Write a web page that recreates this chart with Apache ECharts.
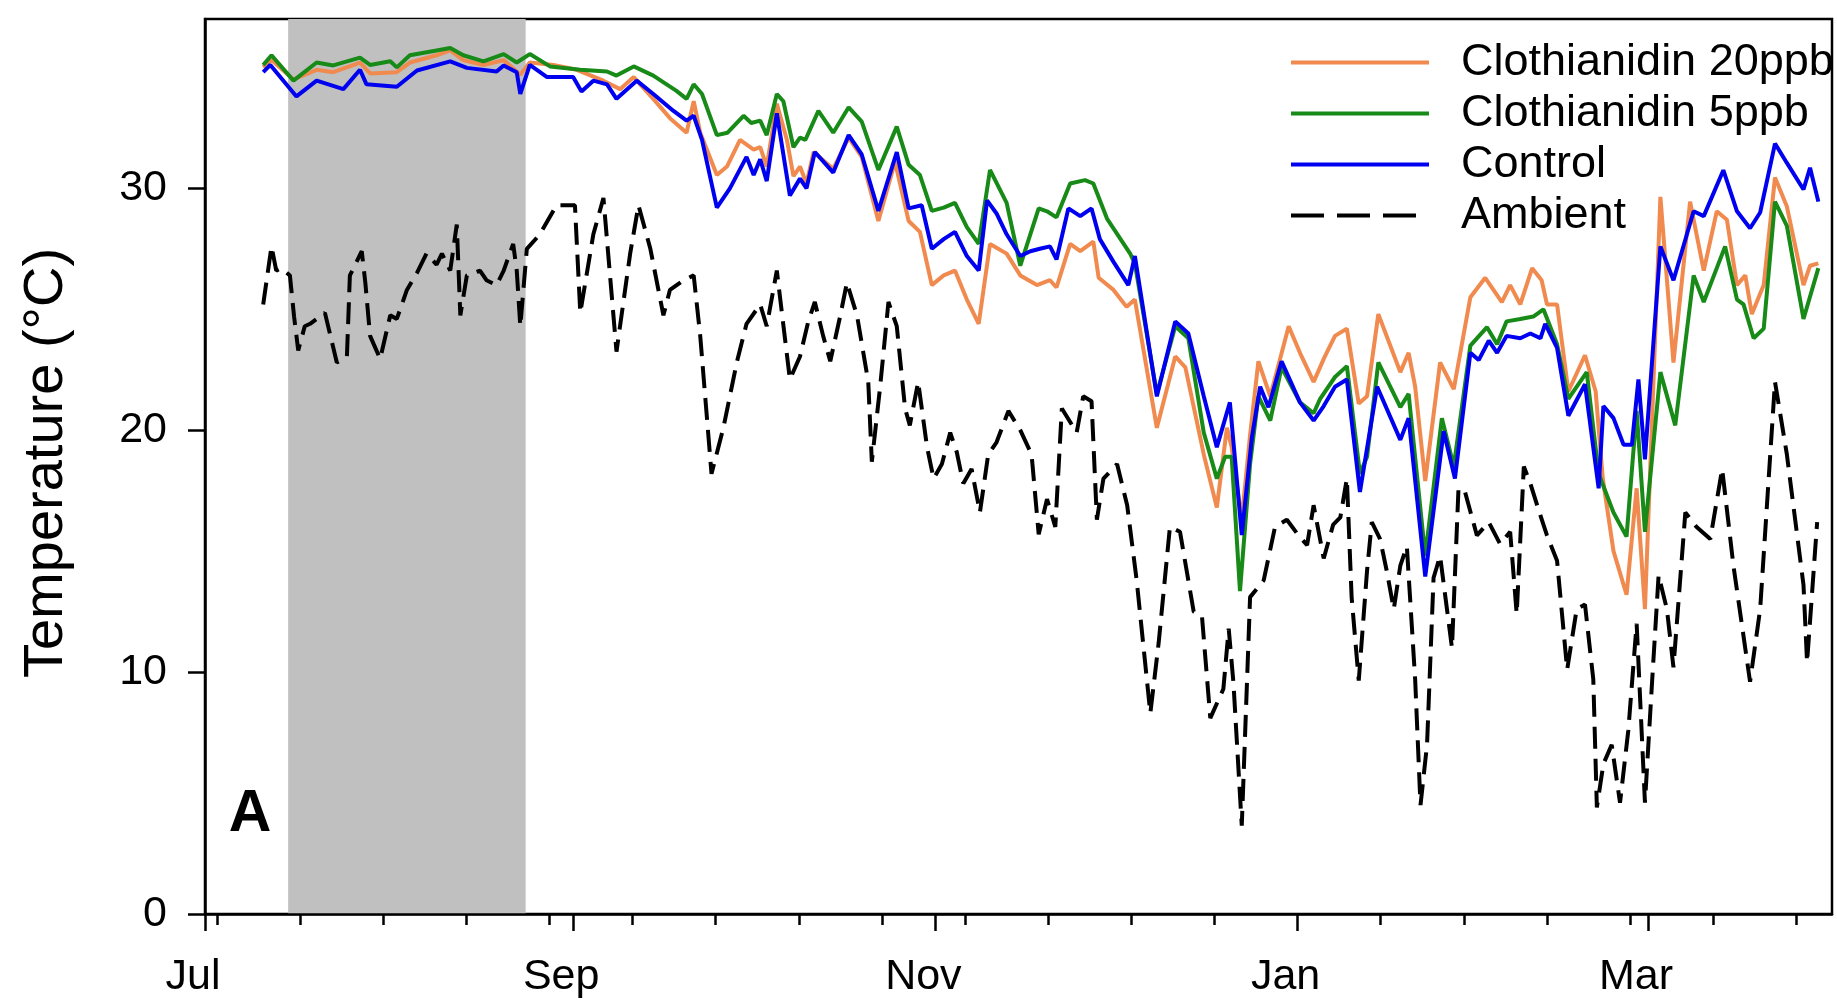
<!DOCTYPE html>
<html>
<head>
<meta charset="utf-8">
<script src="https://cdn.jsdelivr.net/npm/echarts@6/dist/echarts.min.js"></script>
<style>
html,body{margin:0;padding:0;background:#fff;}
#chart{width:1837px;height:1002px;}
</style>
</head>
<body>
<div id="chart"></div>
<script>
// x values are days since 1 July
const majorTickDays = [0, 62, 123, 184, 243];
const majorTickLabels = ['Jul', 'Sep', 'Nov', 'Jan', 'Mar'];
const minorTickDays = [2, 16, 30, 44, 58, 72, 86, 100, 114, 128, 142, 156, 170, 198, 212, 226, 240, 254, 268];
const yTicks = [0, 10, 20, 30];
const shadeStart = 14, shadeEnd = 54;

const c20Day = [9.8,11.2,14.9,18.8,21.6,26.1,27.8,32.3,34.5,39.0,41.3,43.5,46.9,50.3,53.1,54.7,58.7,62.6,67.1,69.9,72.2,75.5,78.3,81.1,82.3,83.4,86.2,87.9,90.1,92.4,93.5,94.6,96.3,98.0,99.1,100.2,101.3,102.5,105.8,108.4,110.6,113.4,116.2,118.5,120.4,122.4,124.4,126.3,128.3,130.3,132.2,135.0,137.3,140.1,142.3,143.4,145.7,147.4,149.6,150.5,153.0,155.2,156.6,160.3,163.4,165.1,168.2,170.4,172.1,172.9,174.6,176.0,177.4,179.4,182.5,184.4,186.7,188.5,190.3,192.3,194.3,195.7,197.6,199.6,201.3,202.7,203.8,205.5,208.0,210.3,213.1,215.6,218.4,219.8,221.5,223.5,225.1,226.0,227.7,229.6,232.4,234.2,235.4,237.2,239.4,241.1,242.5,245.1,247.3,250.1,252.4,254.6,256.3,258.0,259.4,260.5,262.5,264.4,266.4,269.2,270.3,271.7];
const c20Val = [35.0,35.3,34.5,34.9,34.8,35.2,34.75,34.8,35.2,35.5,35.7,35.3,35.1,35.3,34.7,35.2,35.1,34.9,34.45,34.1,34.6,33.7,32.9,32.3,33.6,32.3,30.55,30.9,32.0,31.6,31.7,30.9,33.5,32.0,30.5,30.9,30.2,31.5,30.8,32.1,31.3,28.65,31.1,28.65,28.2,26.0,26.4,26.6,25.4,24.4,27.7,27.3,26.4,26.0,26.2,25.9,27.7,27.4,27.8,26.3,25.8,25.1,25.4,20.1,23.05,22.6,19.0,16.8,20.1,19.3,16.3,19.8,22.85,21.4,24.3,23.2,22.0,23.0,23.9,24.2,21.1,21.4,24.8,23.5,22.4,23.2,21.8,17.9,22.8,21.7,25.5,26.3,25.3,26.0,25.2,26.7,26.2,25.2,25.2,21.6,23.1,21.6,18.0,15.0,13.2,17.6,12.6,29.65,22.8,29.45,26.6,29.05,28.7,26.0,26.4,24.8,26.0,30.45,29.25,26.0,26.8,26.9];

const c5Day = [9.8,11.2,14.9,18.8,21.6,26.1,27.8,31.2,32.3,34.5,39.0,41.3,43.5,46.9,50.3,52.5,54.7,58.1,63.2,67.7,69.3,72.2,75.5,79.4,81.1,82.3,83.7,86.2,88.0,90.7,92.0,93.5,94.6,96.3,97.4,99.1,100.2,101.1,103.3,105.8,108.4,110.6,113.4,116.5,118.5,120.4,122.4,124.4,126.3,128.3,130.3,132.2,135.0,137.3,140.4,141.8,143.4,145.7,148.2,149.6,151.9,155.8,156.6,160.3,163.4,165.6,168.2,170.4,171.8,172.9,174.3,176.0,177.4,179.4,181.3,184.4,186.7,187.8,190.3,192.3,194.5,195.7,197.6,201.3,202.7,205.5,208.3,210.3,213.1,215.9,217.6,219.2,221.5,223.7,225.4,227.7,229.6,232.7,234.7,237.2,239.4,241.1,242.5,245.1,247.6,250.7,252.4,256.0,258.0,259.1,260.8,262.5,264.4,266.4,269.2,271.7];
const c5Val = [35.1,35.5,34.45,35.2,35.08,35.4,35.1,35.25,35.0,35.5,35.7,35.8,35.5,35.25,35.55,35.2,35.55,35.04,34.9,34.83,34.66,35.04,34.66,34.03,33.7,34.3,33.9,32.2,32.3,33.0,32.7,32.8,32.2,33.9,33.6,31.7,32.1,32.0,33.2,32.3,33.35,32.76,30.76,32.55,30.97,30.55,29.07,29.2,29.4,28.4,27.7,30.76,29.4,26.8,29.17,29.05,28.8,30.2,30.34,30.2,28.75,27.3,26.9,21.5,24.3,23.8,19.9,18.0,18.9,18.9,13.35,18.6,21.4,20.4,22.6,21.15,20.7,21.3,22.2,22.65,18.2,18.9,22.8,20.95,21.5,14.8,20.5,18.5,23.5,24.26,23.55,24.5,24.6,24.7,25.0,23.55,21.3,22.4,18.2,16.6,15.6,20.8,15.8,22.4,20.2,26.4,25.3,27.6,25.4,25.2,23.8,24.2,29.45,28.45,24.6,26.7];

const ctrlDay = [9.8,11.0,15.4,18.8,23.3,26.1,27.2,32.3,35.7,41.3,44.1,49.1,50.3,52.5,53.1,54.7,57.6,62.0,63.4,65.4,67.7,69.3,72.7,75.5,78.9,81.1,82.3,83.7,86.2,88.4,91.2,92.4,93.5,94.6,96.3,98.5,100.2,101.3,102.7,105.8,108.4,110.6,113.4,116.5,118.5,120.7,122.4,124.4,126.3,128.3,130.3,131.7,133.3,135.0,137.3,139.0,140.6,142.3,143.4,145.4,147.4,149.3,150.7,153.0,155.5,156.6,160.3,163.4,165.6,168.2,170.4,172.6,174.6,176.3,177.7,179.1,181.3,184.4,186.7,188.4,190.3,192.3,194.5,197.4,201.3,202.7,205.5,208.6,210.5,213.1,214.5,216.2,217.6,219.2,221.5,223.2,224.9,225.7,227.7,229.6,232.4,234.7,235.5,237.2,238.9,240.3,241.4,242.5,245.1,247.3,250.7,252.4,255.7,258.0,260.2,261.9,264.4,266.4,269.2,270.3,271.7];
const ctrlVal = [34.8,35.1,33.8,34.45,34.1,34.9,34.3,34.2,34.87,35.25,34.98,34.83,35.08,34.8,33.9,35.1,34.6,34.6,34.0,34.45,34.3,33.7,34.45,33.9,33.2,32.8,33.0,32.0,29.2,30.0,31.3,30.55,31.2,30.3,33.1,29.7,30.4,30.0,31.5,30.65,32.2,31.4,29.07,31.5,29.17,29.3,27.5,27.9,28.2,27.2,26.6,29.5,28.96,28.1,27.2,27.4,27.5,27.6,27.06,29.17,28.85,29.17,27.9,26.96,26.0,27.2,21.4,24.5,24.0,21.4,19.3,21.15,15.67,19.7,21.8,20.95,22.85,21.15,20.4,21.0,21.8,22.1,17.45,21.8,19.6,20.5,13.95,19.96,18.0,23.2,22.9,23.7,23.2,23.9,23.8,24.0,23.8,24.4,23.4,20.6,21.9,17.6,21.0,20.5,19.4,19.4,22.1,18.8,27.6,26.2,29.05,28.85,30.75,29.05,28.35,29.0,31.85,31.05,29.95,30.85,29.45];

const ambDay = [9.8,11.2,12.0,12.9,14.3,15.0,15.7,16.8,17.7,20.2,22.2,23.9,24.4,26.4,27.0,27.8,29.5,31.2,32.3,34.0,35.7,37.3,39.0,39.9,41.3,42.4,43.0,44.1,46.3,47.4,49.1,50.3,51.9,52.5,53.1,54.2,56.4,59.2,62.3,63.2,65.4,67.1,69.3,71.6,73.0,75.0,77.2,78.3,80.6,82.3,83.4,85.3,87.3,89.6,91.2,93.5,94.6,96.3,98.5,100.2,101.6,102.7,104.1,105.3,107.0,108.1,109.8,111.7,112.3,113.7,115.1,116.5,117.9,118.7,120.1,121.6,122.7,124.1,125.5,126.6,127.7,129.1,130.5,131.9,133.3,135.3,137.3,139.2,140.4,141.8,143.2,144.3,146.8,147.9,149.3,150.2,151.3,153.6,155.3,156.9,159.2,160.6,162.5,164.2,166.5,167.9,169.3,171.5,172.4,173.2,174.6,176.0,178.3,180.2,182.2,184.0,185.6,186.7,188.4,190.0,191.2,192.3,193.1,194.3,195.7,196.5,197.9,199.0,200.2,201.3,202.4,203.8,204.7,205.8,206.9,208.0,210.0,211.1,212.2,214.2,216.2,218.1,219.8,220.9,222.1,223.2,224.6,226.0,227.7,229.4,231.0,232.4,233.8,234.4,235.5,236.9,238.3,239.7,241.1,242.5,243.7,244.8,246.2,247.3,249.3,251.2,253.5,255.5,257.4,260.2,261.9,264.4,266.4,269.2,269.8,271.5];
const ambVal = [25.2,27.6,26.6,26.7,26.4,24.7,23.3,24.3,24.4,24.85,22.8,23.05,26.4,27.4,26.1,23.9,22.95,24.75,24.6,25.8,26.5,27.3,26.85,27.3,26.6,28.5,24.75,26.4,26.6,26.2,26.0,26.6,27.7,26.6,24.3,27.5,28.1,29.3,29.3,24.85,28.1,29.6,23.25,27.3,29.3,27.5,24.75,25.8,26.2,26.4,23.9,18.2,20.1,22.85,24.4,25.2,24.3,26.6,22.1,23.05,24.5,25.3,23.9,22.85,24.75,26.1,24.75,22.0,18.7,21.8,25.3,24.3,20.9,20.2,22.0,19.3,18.0,18.6,19.9,19.1,17.8,18.4,16.6,19.0,19.5,20.8,20.0,19.0,15.7,17.15,16.0,20.9,19.9,21.4,21.2,16.3,18.0,18.6,16.9,13.8,8.3,11.2,16.0,15.8,12.5,12.3,8.1,9.3,11.8,9.55,3.65,13.1,13.8,16.0,16.3,15.7,15.25,16.9,14.7,16.1,16.4,18.0,13.1,9.65,14.2,16.2,15.5,14.2,12.6,14.4,15.2,9.7,4.5,7.0,13.9,14.8,11.0,17.6,17.45,15.65,16.2,15.3,15.8,12.4,18.5,17.8,16.7,15.65,14.6,10.1,12.6,12.8,9.7,4.4,6.2,7.0,4.6,7.6,12.0,4.6,9.6,14.0,12.6,10.2,16.6,16.0,15.5,18.4,14.4,9.6,12.6,22.0,19.0,13.6,10.4,16.2];

const pairs = (xs, ys) => xs.map((x, i) => [x, ys[i]]);
const FONT = '"Liberation Sans", Arial, Helvetica, sans-serif';
const AX = {color: '#000', width: 2.5};
const COL20 = '#f08a4e', COL5 = '#178a17', COLC = '#0000f0';

const chart = echarts.init(document.getElementById('chart'), null, {renderer: 'canvas'});
chart.setOption({
  animation: false,
  backgroundColor: '#fff',
  grid: {left: 205, right: 5, top: 19, bottom: 88, show: true, borderColor: '#000', borderWidth: 2.5, containLabel: false},
  legend: {
    orient: 'vertical', left: 1289, top: 40, padding: 0,
    itemWidth: 138, itemHeight: 1, itemGap: 6,
    textStyle: {fontSize: 45, color: '#000', fontFamily: FONT, padding: [0, 0, 0, 27]},
    data: [
      {name: 'Clothianidin 20ppb', lineStyle: {width: 4, color: COL20}},
      {name: 'Clothianidin 5ppb', lineStyle: {width: 4, color: COL5}},
      {name: 'Control', lineStyle: {width: 4, color: COLC}},
      {name: 'Ambient', lineStyle: {type: [33, 13], width: 4, color: '#000'}}
    ]
  },
  xAxis: [
    {
      type: 'value', min: 0, max: 274, position: 'bottom',
      axisLine: {show: true, onZero: false, lineStyle: AX},
      axisTick: {show: true, length: 17, customValues: majorTickDays, lineStyle: AX},
      axisLabel: {
        customValues: majorTickDays,
        formatter: v => majorTickLabels[majorTickDays.indexOf(Math.round(v))] || '',
        fontSize: 43, color: '#000', fontFamily: FONT, margin: 42, padding: [0, 24, 0, 0]
      },
      splitLine: {show: false}
    },
    {
      type: 'value', min: 0, max: 274, position: 'bottom',
      axisLine: {show: false, onZero: false},
      axisTick: {show: true, length: 11, customValues: minorTickDays, lineStyle: AX},
      axisLabel: {show: false},
      splitLine: {show: false}
    }
  ],
  yAxis: {
    type: 'value', min: 0, max: 37,
    axisLine: {show: true, onZero: false, lineStyle: AX},
    axisTick: {show: true, length: 17, customValues: yTicks, lineStyle: AX},
    axisLabel: {customValues: yTicks, fontSize: 43, color: '#000', fontFamily: FONT, margin: 38},
    splitLine: {show: false}
  },
  graphic: [
    {type: 'text', x: 47, y: 463, rotation: Math.PI / 2,
     style: {text: 'Temperature (°C)', font: '56px ' + FONT, fill: '#000', align: 'center', verticalAlign: 'middle'}},
    {type: 'text', x: 250, y: 815,
     style: {text: 'A', font: 'bold 59px ' + FONT, fill: '#000', align: 'center', verticalAlign: 'middle'}}
  ],
  series: [
    {
      name: 'Ambient', type: 'line', xAxisIndex: 0, data: pairs(ambDay, ambVal),
      symbol: 'none', z: 2,
      lineStyle: {color: '#000', width: 4, type: [22, 10]},
      itemStyle: {color: '#000'},
      markArea: {silent: true, z: 0, itemStyle: {color: '#c0c0c0'}, data: [[{xAxis: shadeStart}, {xAxis: shadeEnd}]]}
    },
    {
      name: 'Clothianidin 20ppb', type: 'line', xAxisIndex: 0, data: pairs(c20Day, c20Val),
      symbol: 'none', z: 3,
      lineStyle: {color: COL20, width: 4}, itemStyle: {color: COL20}
    },
    {
      name: 'Clothianidin 5ppb', type: 'line', xAxisIndex: 0, data: pairs(c5Day, c5Val),
      symbol: 'none', z: 4,
      lineStyle: {color: COL5, width: 4}, itemStyle: {color: COL5}
    },
    {
      name: 'Control', type: 'line', xAxisIndex: 0, data: pairs(ctrlDay, ctrlVal),
      symbol: 'none', z: 5,
      lineStyle: {color: COLC, width: 4}, itemStyle: {color: COLC}
    }
  ]
});
</script>
</body>
</html>
